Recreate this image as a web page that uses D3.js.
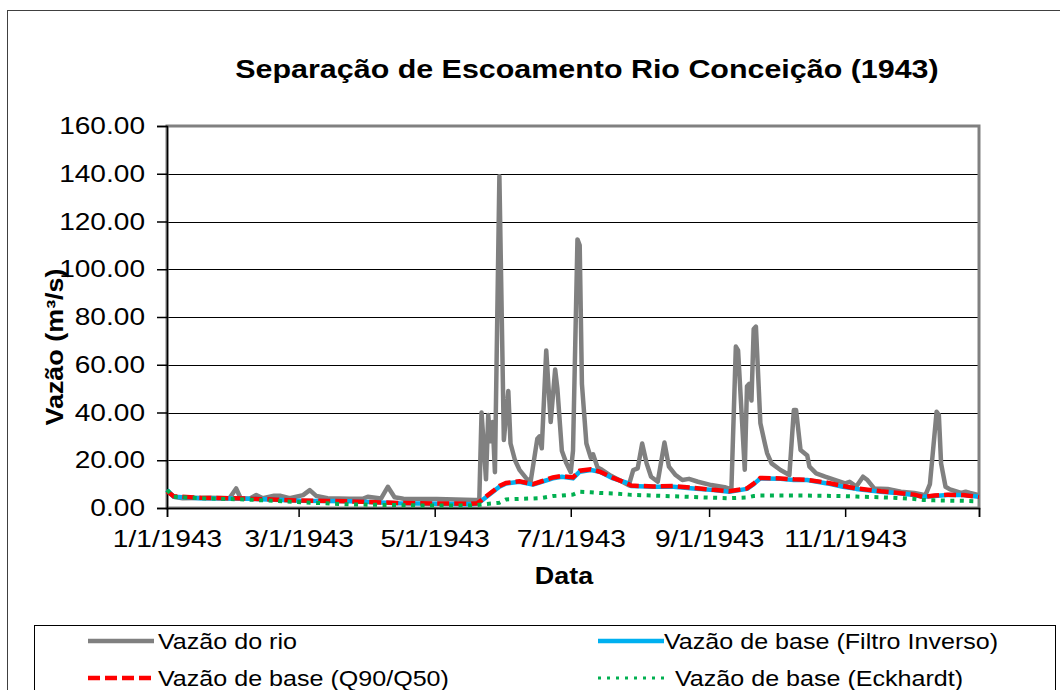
<!DOCTYPE html>
<html>
<head>
<meta charset="utf-8">
<script src="https://cdn.jsdelivr.net/npm/d3@7"></script>
<style>
  body { margin: 0; background: #fff; }
  svg { font-family: "Liberation Sans", Arial, sans-serif; }
  .tick text { fill: #000; }
</style>
</head>
<body>
<svg width="1060" height="690" viewBox="0 0 1060 690"></svg>
<script>
// river flow (m3/s)
var riverDates = ["1943-01-01","1943-01-04","1943-01-08","1943-01-20","1943-01-29","1943-02-01","1943-02-03","1943-02-07",
  "1943-02-10","1943-02-13","1943-02-18","1943-02-21","1943-02-25","1943-03-03","1943-03-06","1943-03-09","1943-03-14",
  "1943-03-24","1943-03-30","1943-04-01","1943-04-07","1943-04-10","1943-04-13","1943-04-17","1943-05-02","1943-05-19",
  "1943-05-21","1943-05-22","1943-05-24","1943-05-25","1943-05-26","1943-05-27","1943-05-28","1943-05-30","1943-06-01",
  "1943-06-03","1943-06-04","1943-06-06","1943-06-08","1943-06-11","1943-06-13","1943-06-16","1943-06-17","1943-06-18",
  "1943-06-20","1943-06-22","1943-06-24","1943-06-25","1943-06-27","1943-06-29","1943-07-01","1943-07-02","1943-07-04",
  "1943-07-05","1943-07-06","1943-07-08","1943-07-10","1943-07-11","1943-07-13","1943-07-15","1943-07-19","1943-07-22",
  "1943-07-27","1943-07-29","1943-07-31","1943-08-02","1943-08-04","1943-08-06","1943-08-09","1943-08-12","1943-08-14",
  "1943-08-17","1943-08-20","1943-08-23","1943-08-27","1943-09-02","1943-09-08","1943-09-11","1943-09-13","1943-09-14",
  "1943-09-17","1943-09-18","1943-09-19","1943-09-20","1943-09-21","1943-09-22","1943-09-24","1943-09-26","1943-09-27",
  "1943-09-29","1943-10-03","1943-10-07","1943-10-09","1943-10-10","1943-10-12","1943-10-15","1943-10-16","1943-10-19",
  "1943-10-23","1943-11-01","1943-11-03","1943-11-06","1943-11-09","1943-11-11","1943-11-14","1943-11-20","1943-11-26",
  "1943-12-02","1943-12-07","1943-12-09","1943-12-12","1943-12-13","1943-12-14","1943-12-16","1943-12-18","1943-12-23",
  "1943-12-25","1943-12-27","1943-12-31"];
var riverFlow = [7.5,4.7,4.1,4.3,4.1,8.2,4.1,3.9,
  5.4,4.1,5.1,5.1,4.1,5.4,7.5,5.0,4.1,
  3.9,3.9,4.7,4.0,8.9,4.5,3.9,3.8,3.4,
  3.5,40,12,39,28,36,15,139,28.5,
  49,27,20,16,12.5,11,29,30,25,
  66,36,58,50,24,18.8,15,24,112.5,
  110,52,27,21,22.5,17,16,13.5,12,
  9.5,15.9,16.6,27,18.7,13.1,11,27.4,17.3,
  13.8,11.7,12.2,11,9.6,8.7,7.8,67.6,66,
  16,51,52,45,75,76,35.5,27,23,
  18.7,15.9,13.8,41,41,24.3,22,17.3,14.5,
  13.1,10.3,11,9,13.1,11.7,8.2,8,6.8,
  6.3,5.4,10,40.3,39,18.7,8.9,7.8,6.3,
  6.8,6.3,5.4];

// base flow series share one set of dates
var baseDates = ["1943-01-01","1943-01-04","1943-01-16","1943-02-07","1943-03-02","1943-03-24","1943-04-15","1943-05-03",
  "1943-05-17","1943-05-20","1943-05-22","1943-05-30","1943-06-02","1943-06-08","1943-06-14","1943-06-18","1943-06-23",
  "1943-06-27","1943-07-02","1943-07-05","1943-07-10","1943-07-14","1943-07-20","1943-07-27","1943-07-28","1943-08-07",
  "1943-08-16","1943-08-25","1943-09-03","1943-09-10","1943-09-18","1943-09-21","1943-09-24","1943-10-03","1943-10-09",
  "1943-10-15","1943-10-24","1943-10-31","1943-11-06","1943-11-17","1943-11-24","1943-12-02","1943-12-06","1943-12-11",
  "1943-12-17","1943-12-24","1943-12-31"];
var filtroInverso = [7.5,4.7,4.1,3.9,3.0,2.8,2.0,1.8,
  1.6,1.8,3.0,8.9,10.3,11,9.8,11,12.4,
  13.1,12.4,15.2,15.9,15.2,12.4,10.3,9.2,8.9,
  8.9,8.2,7.5,6.8,8.0,10,12.4,12.2,11.7,
  11.7,10.3,8.9,8.0,6.8,6.3,5.4,4.7,5.0,
  5.4,5.4,4.7];
var q90q50 = [7.0,4.9,4.3,3.9,3.1,2.8,2.1,1.9,
  1.8,2.0,3.3,9.2,10.5,11.2,10.0,11.2,12.8,
  13.4,12.8,15.6,16.2,15.2,12.6,10.0,9.4,9.0,
  9.2,8.4,7.6,7.0,8.2,10.2,12.6,12.4,12.0,
  11.8,10.6,9.2,8.2,7.0,6.4,5.6,4.6,5.2,
  5.6,5.4,4.6];
var eckhardt = [7.5,4.7,4.1,3.5,2.4,1.5,1.2,1.0,
  1.0,1.2,1.5,2.2,3.6,3.8,4.0,4.2,5.0,
  5.2,5.6,6.8,6.6,6.3,6.1,5.6,5.5,5.2,
  4.9,4.6,4.3,4.1,4.4,5.0,5.2,5.2,5.2,
  5.2,5.1,5.0,4.8,4.5,4.2,3.8,3.4,3.2,
  3.1,3.0,2.8];

var yTicks = [0,20,40,60,80,100,120,140,160];
var xTickDates = ["1943-01-01","1943-03-01","1943-05-01","1943-07-01","1943-09-01","1943-11-01","1943-12-31"];

var seriesNames = ["Vazão do rio","Vazão de base (Filtro Inverso)","Vazão de base (Q90/Q50)","Vazão de base (Eckhardt)"];

var parse = d3.timeParse("%Y-%m-%d");
var fmt = d3.timeFormat("%-m/%-d/%Y");

var canvas = d3.select("svg");

// the reference font runs wider than Liberation Sans
function stretch(sel, k) {
  k = k || 1.17;
  sel.each(function() {
    var w = this.getComputedTextLength();
    d3.select(this).attr("textLength", w * k).attr("lengthAdjust", "spacingAndGlyphs");
  });
}

// plot area
var pLeft = 167, pRight = 979, pTop = 126, pBottom = 508;

var x = d3.scaleTime()
  .domain([parse("1943-01-01"), parse("1943-12-31")])
  .range([pLeft, pRight]);
var y = d3.scaleLinear().domain([0, 160]).range([pBottom, pTop]);

// chart border
canvas.append("rect")
  .attr("x", 7.5).attr("y", 10.5)
  .attr("width", 1060).attr("height", 700)
  .attr("fill", "none").attr("stroke", "#404040").attr("stroke-width", 1);

// title
canvas.append("text")
  .attr("x", 587).attr("y", 78)
  .attr("text-anchor", "middle")
  .style("font-size", "26px").style("font-weight", "bold")
  .text("Separação de Escoamento Rio Conceição (1943)")
  .call(stretch);

// grid lines
canvas.selectAll("line.grid")
  .data(yTicks.slice(1, -1))
  .enter()
    .append("line")
    .attr("class", "grid")
    .attr("x1", pLeft).attr("x2", pRight)
    .attr("y1", function(d) { return Math.round(y(d)) + 0.5; })
    .attr("y2", function(d) { return Math.round(y(d)) + 0.5; })
    .attr("stroke", "#000").attr("stroke-width", 1.2);

// plot area border (grey)
canvas.append("rect")
  .attr("x", pLeft).attr("y", pTop)
  .attr("width", pRight - pLeft).attr("height", pBottom - pTop)
  .attr("fill", "none").attr("stroke", "#808080").attr("stroke-width", 3);

// y axis
var yAxis = d3.axisLeft(y)
  .tickValues(yTicks)
  .tickFormat(d3.format(".2f"))
  .tickSize(10).tickPadding(12);
var gy = canvas.append("g").attr("transform", "translate(" + pLeft + ",0)").call(yAxis);
gy.select(".domain").attr("stroke", "#000").attr("stroke-width", 1.5);
gy.selectAll(".tick line").attr("stroke", "#000").attr("stroke-width", 1.5);
gy.selectAll(".tick text")
  .style("font-size", "24px").style("font-family", "Liberation Sans, Arial, sans-serif")
  .call(stretch);

// x axis
var xAxis = d3.axisBottom(x)
  .tickValues(xTickDates.map(parse))
  .tickFormat(function(d, i) { return i < xTickDates.length - 1 ? fmt(d) : ""; })
  .tickSize(9).tickPadding(13);
var gx = canvas.append("g").attr("transform", "translate(0," + pBottom + ")").call(xAxis);
gx.select(".domain").attr("stroke", "#000").attr("stroke-width", 1.5);
gx.selectAll(".tick line").attr("stroke", "#000").attr("stroke-width", 1.5);
gx.selectAll(".tick text")
  .style("font-size", "24px").style("font-family", "Liberation Sans, Arial, sans-serif")
  .filter(function() { return this.textContent !== ""; })
  .call(stretch);

// axis titles
canvas.append("text")
  .attr("x", 564).attr("y", 584)
  .attr("text-anchor", "middle")
  .style("font-size", "23px").style("font-weight", "bold")
  .text("Data")
  .call(stretch);

canvas.append("text")
  .attr("transform", "translate(63,347) rotate(-90)")
  .attr("text-anchor", "middle")
  .style("font-size", "23px").style("font-weight", "bold")
  .text("Vazão (m³/s)")
  .call(stretch);

// lines
function makeLine(dates, vals) {
  return d3.line()
    .x(function(d, i) { return x(parse(dates[i])); })
    .y(function(d) { return y(d); })(vals);
}

canvas.append("path")
  .attr("d", makeLine(riverDates, riverFlow))
  .attr("fill", "none").attr("stroke", "#808080").attr("stroke-width", 4.5)
  .attr("stroke-linejoin", "round");

canvas.append("path")
  .attr("d", makeLine(baseDates, filtroInverso))
  .attr("fill", "none").attr("stroke", "#00B0F0").attr("stroke-width", 4.5)
  .attr("stroke-linejoin", "round");

canvas.append("path")
  .attr("d", makeLine(baseDates, q90q50))
  .attr("fill", "none").attr("stroke", "#FF0000").attr("stroke-width", 4.5)
  .attr("stroke-dasharray", "12,5");

canvas.append("path")
  .attr("d", makeLine(baseDates, eckhardt))
  .attr("fill", "none").attr("stroke", "#00B050").attr("stroke-width", 4)
  .attr("stroke-dasharray", "4,5.5");

// legend
canvas.append("rect")
  .attr("x", 34.5).attr("y", 625.5)
  .attr("width", 1021).attr("height", 80)
  .attr("fill", "#fff").attr("stroke", "#000").attr("stroke-width", 1);

var legendItems = [
  {name: seriesNames[0], x: 88, y: 641, tx: 70, color: "#808080", dash: null, w: 4.5},
  {name: seriesNames[1], x: 598, y: 641, tx: 66, color: "#00B0F0", dash: null, w: 4.5},
  {name: seriesNames[2], x: 88, y: 678, tx: 70, color: "#FF0000", dash: "12,5", w: 4.5},
  {name: seriesNames[3], x: 598, y: 678, tx: 77, color: "#00B050", dash: "3,6", w: 3}
];

var lg = canvas.selectAll("g.legend")
  .data(legendItems)
  .enter()
    .append("g")
    .attr("class", "legend")
    .attr("transform", function(d) { return "translate(" + d.x + "," + d.y + ")"; });

lg.append("line")
  .attr("x1", 0).attr("x2", 66)
  .attr("stroke", function(d) { return d.color; })
  .attr("stroke-width", function(d) { return d.w; })
  .attr("stroke-dasharray", function(d) { return d.dash; });

lg.append("text")
  .attr("x", function(d) { return d.tx; }).attr("y", 8)
  .style("font-size", "22px")
  .text(function(d) { return d.name; })
  .call(stretch, 1.14);
</script>
</body>
</html>
